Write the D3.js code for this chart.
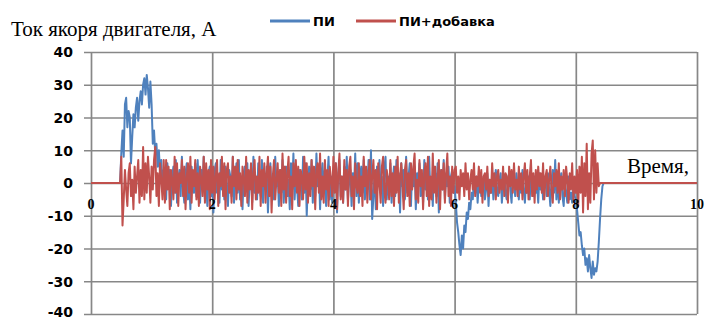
<!DOCTYPE html>
<html>
<head>
<meta charset="utf-8">
<script src="https://cdn.jsdelivr.net/npm/d3@7"></script>
<style>
  html, body { margin: 0; padding: 0; background: #fff; }
  svg { display: block; }
</style>
</head>
<body>
<svg id="chart" width="705" height="320"></svg>
<script>
// Armature current of the motor, sampled every 0.02 s from t = 0.48 s
const sampleStart = 0.48;
const sampleStep = 0.02;
const timeDomain = [0, 10];
const currentDomain = [-40, 40];

const xTicks = [0, 2, 4, 6, 8, 10];
const yTicks = [-40, -30, -20, -10, 0, 10, 20, 30, 40];

const seriesNames = ["ПИ", "ПИ+добавка"];

// PI controller
const piValues = [
  // start-up
  0, 9, 16, 8, 24, 26, 17, 22, 20, 6,
  14, 21, 17, 23, 26, 19, 25, 28, 24, 30,
  32, 27, 33, 29, 23, 31, 24, 12, 16, 9,
  12, 5, 10, 3, 7, -2, 4,
  // steady running
  3, -5, 6, -1, 4, -7, 2, 5, -3, 7,
  -6, 1, 4, -4, 8, -2, -6, 3, 6, -5,
  2, -8, 5, 0, -3, 6, -4, 7, -1, -6,
  4, -2, 8, -5, 1, -7, 3, 5, -4, 2,
  -9, 4, 6, -3, 1, -6, 7, -2, 3, -5,
  5, -1, -7, 4, 2, -4, 8, -6, 1, 6,
  -3, 7, -5, 2, -8, 3, 5, -2, 6, -7,
  1, 4, -6, 8, -3, 2, -5, 6, -1, -4,
  7, -6, 3, -2, 5, -9, 2, 6, -4, 1,
  -5, 8, -1, 3, -7, 4, -3, 7, -6, 2,
  5, -4, 1, -8, 6, -2, 9, -5, 3, -1,
  -7, 4, 2, -5, 8, -3, 6, -10, 1, 5,
  -2, 7, -6, 3, -4, 9, -1, 5, -8, 2,
  6, -3, 4, -7, 1, 8, -5, 2, -6, 4,
  -1, 6, -9, 3, 7, -4, 2, -6, 5, -2,
  8, -5, 1, 4, -7, 3, -2, 9, -4, 6,
  -6, 2, 5, -3, 7, -5, 4, -2, 7, -5,
  10, -11, -4, 3, -8, 5, -1, 7, -3, 2,
  -7, 4, 8, -5, 2, -3, 6, -6, 1, 5,
  -4, 7, -2, 3, -9, 6, -1, 4, -5, 8,
  -3, 2, 6, -7, 4, -1, 5, -8, 3, 1,
  6, -4, 2, -6, 7, -2, 4, -5, 8, -3,
  1, -7, 5, 3, -4, 6, -9, 2, 4, -2,
  7, -5, 3, -1, 5, -6, 2, 4, -3, -1,
  // braking near t = 6
  -6, -12, -15, -19, -22, -16, -20, -13, -15, -9,
  -11, -6, -8, -3, -5,
  1, -3, 2, -6, 0, 3, -4, -1, 2, -5,
  -2, 3, -7, 1, -3, 2, -5, 0, 4, -2,
  -4, 1, 3, -6, -1, 2, -3, -5, 1, 3,
  -2, -6, 2, 0, -4, 3, -1, -5, 2, -3,
  4, -2, -6, 1, -3, 2, -5, 3, -1, -4,
  2, -3, 0, -6, 3, -2, 1, -5, -1, 2,
  -4, 3, -2, -7, 1, 4, -3, 7, -5, 2,
  -6, 0, 3, -4, -7, 1, -3, -6, 2, -5,
  -3, -6, 1, -4, -5,
  // stop near t = 8
  -8, -12, -16, -15, -19, -22, -20, -25, -23, -27,
  -22, -26, -29, -24, -28, -26, -27, -24, -18, -11,
  -5, -1, 0
];

// PI controller with the additional term
const piPlusValues = [
  // start-up
  0, 8, -13, -5, 4, -2, -7, 3, 6, -4,
  1, -8, 5, -3, 2, 7, -6, 4, -4, 11,
  -5, 6, -3, 8, 2, -6, 5, -2, 7, 11,
  -4, 3, -7, 6, 1, -5, 7,
  // steady running
  -6, 7, -2, 5, -8, 4, 1, -5, 8, -3,
  6, -7, 3, 0, 7, -4, 5, -8, 2, 6,
  -3, 8, -6, 4, -1, 7, -5, 3, -7, 5,
  1, -4, 8, -6, 6, -2, 4, -8, 7, -3,
  5, -5, 2, 7, -7, 3, -1, 8, -4, 6,
  -8, 4, 6, -3, 2, -6, 8, -1, 5, -5,
  7, -2, 3, -7, 5, 1, -4, 8, -6, 4,
  -2, 6, -8, 3, 7, -5, 2, -3, 8, -7,
  4, -1, 6, -6, 3, 8, -4, 5, -9, 2,
  7, -5, 1, 6, -3, 4, -7, 9, -2, 5,
  -6, 3, 8, -4, 2, -8, 6, -1, 7, -3,
  5, -7, 4, 2, -5, 8, -2, 6, -6, 3,
  -4, 7, -1, 5, -8, 4, 6, -3, 9, -5,
  2, -6, 7, -2, 4, -7, 5, 1, -4, 8,
  -3, 6, -8, 3, 9, -5, 2, -6, 7, -2,
  4, -7, 5, 8, -4, 2, -8, 6, -1, -3,
  6, -4, 2, -7, 8, -1, 5, -6, 3, 7,
  -5, 2, 7, -3, 4, -8, 6, 0, -6, 5,
  8, -2, -6, 4, 1, -5, 7, -4, 3, -7,
  5, -3, 8, -6, 2, 6, -1, -8, 4, 7,
  -4, 3, -7, 6, -2, 5, 9, -5, 1, -6,
  7, -1, 4, -8, 3, 6, -4, 8, -7, 2,
  -5, 9, -3, 5, -6, 1, 7, -8, 4, -2,
  6, -6, 3, 9, -4, 2, -7, 5, -3, 4,
  // after t = 6
  5, -3, 2, -5, 4, -1, 3, -4, 6, -2,
  3, -5, 1, 4, -2, 6, -4, 2, -1, 5,
  -3, 4, -6, 2, 3, -2, 5, -4, 1, -3,
  6, -1, 3, -5, 2, 4, -3, 1, -2, 5,
  -4, 3, 2, -6, 5, -1, 4, -3, 6, -2,
  1, -4, 5, -2, 3, -5, 2, 6, -3, 4,
  -5, 2, 7, -4, 3, -6, 4, -2, 5, -1,
  3, -3, 6, -5, 2, 4, -4, 1, 5, -2,
  -6, 3, -1, 4, -3, 6, -5, 2, -2, 4,
  -4, 5, 1, -6, 3, -2, 6, -5, 2, -3,
  // stop near t = 8
  4, -7, 5, -3, 8, -9, 6, -4, 12, -8,
  3, -6, 9, 13, -5, 10, -3, 6, -1, 0,
  0, 0, 0
];

const seriesColors = ["#4F81BD", "#C0504D"];

const svg = d3.select("#chart");
const width = 705, height = 320;
const plot = { left: 91, right: 697, top: 52, bottom: 314 };

const x = d3.scaleLinear().domain(timeDomain).range([plot.left, plot.right]);
const y = d3.scaleLinear().domain(currentDomain).range([plot.bottom, plot.top]);

// Turn a value list into [time, value] points, idle at zero outside the sampled span
function toPoints(values) {
  const pts = [[timeDomain[0], 0]];
  values.forEach((v, i) => pts.push([sampleStart + i * sampleStep, v]));
  pts.push([timeDomain[1], 0]);
  return pts;
}

const gridColor = "#878787";

// Horizontal grid with short ticks to the left of the axis
const yAxis = d3.axisLeft(y)
  .tickValues(yTicks)
  .tickSize(-(plot.right - plot.left) - 7)
  .tickFormat(d => String(d));
const gy = svg.append("g")
  .attr("transform", `translate(${plot.right},0)`)
  .call(yAxis);
gy.select(".domain").remove();
gy.selectAll(".tick line")
  .attr("x1", 0)
  .attr("x2", -(plot.right - plot.left) - 7)
  .attr("stroke", gridColor)
  .attr("stroke-width", 1.7);
// labels centred on their grid line; the lowest one is kept inside the canvas
const yLabelSize = 14;
gy.selectAll(".tick text")
  .attr("x", -(plot.right - 73))
  .attr("dy", null)
  .attr("y", d => Math.min(0.35 * yLabelSize, height - 4 - y(d)))
  .attr("text-anchor", "end")
  .attr("fill", "#000")
  .style("font-family", "'DejaVu Sans', sans-serif")
  .style("font-weight", "bold")
  .style("font-size", yLabelSize + "px");

// Vertical grid
const xAxis = d3.axisBottom(x)
  .tickValues(xTicks)
  .tickSize(plot.bottom - plot.top)
  .tickFormat(d => String(d));
const gx = svg.append("g")
  .attr("transform", `translate(0,${plot.top})`)
  .call(xAxis);
gx.select(".domain").remove();
gx.selectAll(".tick line")
  .attr("stroke", gridColor)
  .attr("stroke-width", 1.7);
gx.selectAll(".tick text").remove();

// Series lines, the second drawn on top
const line = d3.line().x(d => x(d[0])).y(d => y(d[1]));
[piValues, piPlusValues].forEach((vals, k) => {
  svg.append("path")
    .datum(toPoints(vals))
    .attr("fill", "none")
    .attr("stroke", seriesColors[k])
    .attr("stroke-width", 2)
    .attr("stroke-linejoin", "round")
    .attr("d", line);
});

// Time labels sit just under the zero line
svg.append("g")
  .selectAll("text")
  .data(xTicks)
  .join("text")
  .attr("x", d => x(d))
  .attr("y", y(0) + 26)
  .attr("text-anchor", "middle")
  .style("font-family", "'Liberation Serif', 'Times New Roman', serif")
  .style("font-weight", "bold")
  .style("font-size", "14px")
  .attr("fill", "#000")
  .text(d => String(d));

// Titles
svg.append("text")
  .attr("x", 11)
  .attr("y", 36)
  .style("font-family", "'Liberation Serif', 'Times New Roman', serif")
  .style("font-size", "21px")
  .attr("fill", "#000")
  .text("Ток якоря двигателя, А");

svg.append("text")
  .attr("x", 627)
  .attr("y", 173)
  .style("font-family", "'Liberation Serif', 'Times New Roman', serif")
  .style("font-size", "21px")
  .attr("fill", "#000")
  .text("Время,");

// Legend
const legendItems = [
  { x: 270, name: seriesNames[0], color: seriesColors[0] },
  { x: 356, name: seriesNames[1], color: seriesColors[1] }
];
const lg = svg.append("g");
legendItems.forEach(it => {
  lg.append("line")
    .attr("x1", it.x).attr("x2", it.x + 40)
    .attr("y1", 21).attr("y2", 21)
    .attr("stroke", it.color)
    .attr("stroke-width", 3);
  lg.append("text")
    .attr("x", it.x + 43)
    .attr("y", 25.5)
    .style("font-family", "'DejaVu Sans', sans-serif")
    .style("font-weight", "bold")
    .style("font-size", "13px")
    .attr("fill", "#000")
    .text(it.name);
});
</script>
</body>
</html>
